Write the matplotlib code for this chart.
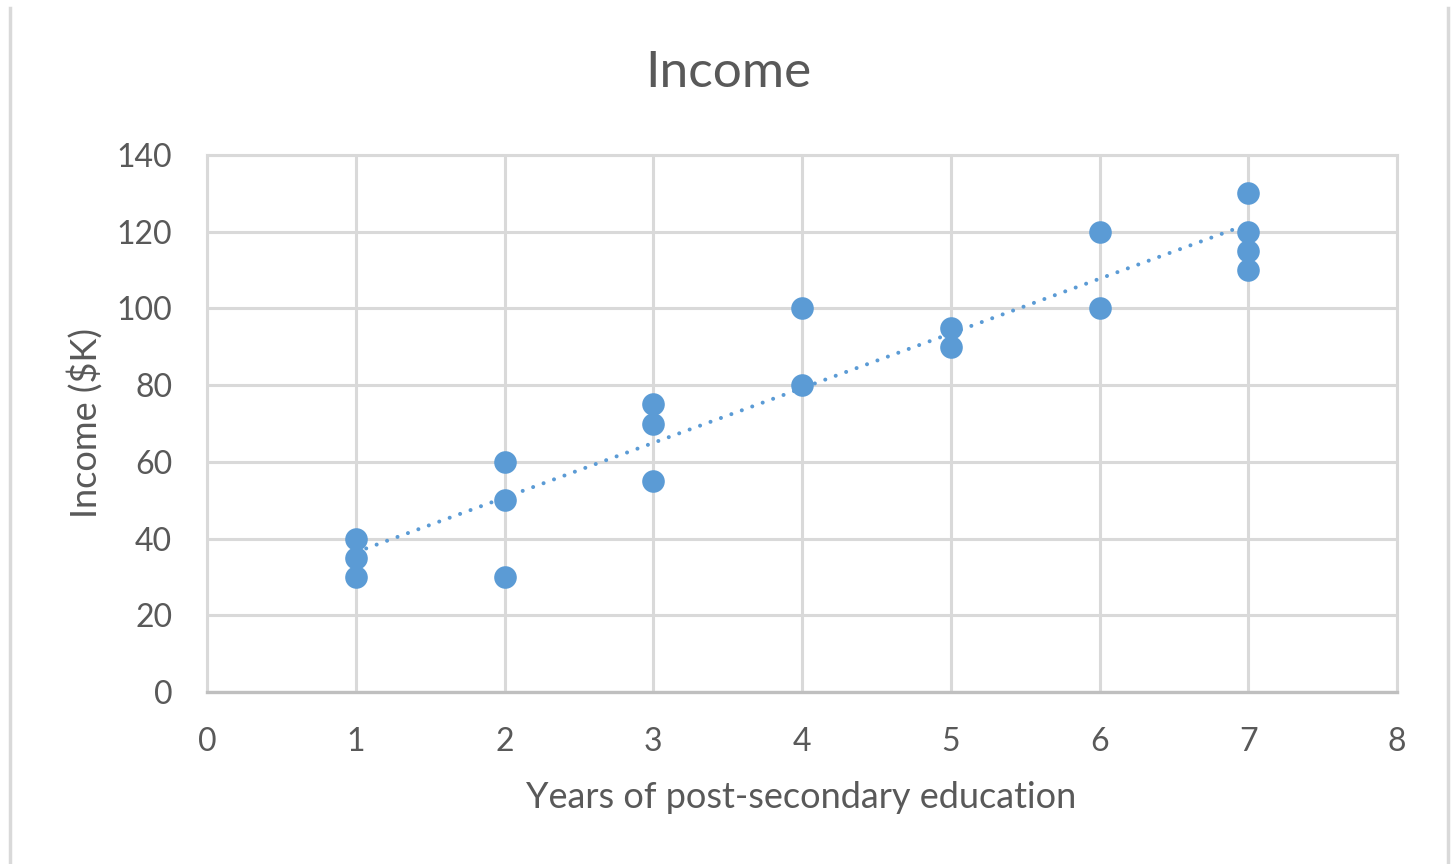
import numpy as np
import matplotlib.pyplot as plt
from matplotlib.lines import Line2D

years = [1, 1, 1, 2, 2, 2, 3, 3, 3, 4, 4, 5, 5, 6, 6, 7, 7, 7, 7]
income = [40, 35, 30, 60, 50, 30, 75, 70, 55, 100, 80, 95, 90, 120, 100, 130, 120, 115, 110]
x_ticks = [0, 1, 2, 3, 4, 5, 6, 7, 8]
y_ticks = [0, 20, 40, 60, 80, 100, 120, 140]

blue = "#5B9BD5"
text_col = "#595959"
grid_col = "#D9D9D9"

plt.rcParams["font.family"] = ["Lato", "DejaVu Sans"]

fig = plt.figure(figsize=(14.52, 8.64), dpi=100)
ax = fig.add_axes([207 / 1452, 1 - 692 / 864, (1397 - 207) / 1452, (692 - 155) / 864])

ax.scatter(years, income, s=265, color=blue, zorder=3, linewidths=0)

# linear trendline
slope, intercept = np.polyfit(years, income, 1)
xt = np.array([min(years), max(years)])
ax.plot(xt, slope * xt + intercept, color=blue, lw=2.9, linestyle=(0, (0.01, 2.75)),
        dash_capstyle="round", zorder=2)

ax.set_xlim(0, 8)
ax.set_ylim(0, 140)
ax.set_xticks(x_ticks)
ax.set_yticks(y_ticks)
ax.grid(True, color=grid_col, lw=2.2, zorder=0)
ax.set_axisbelow(True)
for side in ["top", "right", "left"]:
    ax.spines[side].set_color(grid_col)
    ax.spines[side].set_linewidth(2.2)
ax.spines["bottom"].set_color("#BFBFBF")
ax.spines["bottom"].set_linewidth(2.4)
ax.tick_params(length=0, labelsize=23, colors=text_col)
ax.tick_params(axis="x", pad=25)
ax.tick_params(axis="y", pad=25)

fig.text(728 / 1452, 1 - 73 / 864, "Income", ha="center", va="center",
         fontsize=37, color=text_col)
fig.text(801 / 1452, 1 - 797 / 864, "Years of post-secondary education",
         ha="center", va="center", fontsize=26, color=text_col)
fig.text(85 / 1452, 1 - 423 / 864, "Income ($K)", ha="center", va="center",
         rotation=90, fontsize=26, color=text_col)

# chart-area border edges
fig.add_artist(Line2D([9.5 / 1452, 9.5 / 1452], [0, 1 - 8 / 864],
                      transform=fig.transFigure, color=grid_col, lw=2.5))
fig.add_artist(Line2D([1448 / 1452, 1448 / 1452], [0, 1 - 8 / 864],
                      transform=fig.transFigure, color=grid_col, lw=2.5))

fig.savefig("out.png", dpi=100, facecolor="white")
